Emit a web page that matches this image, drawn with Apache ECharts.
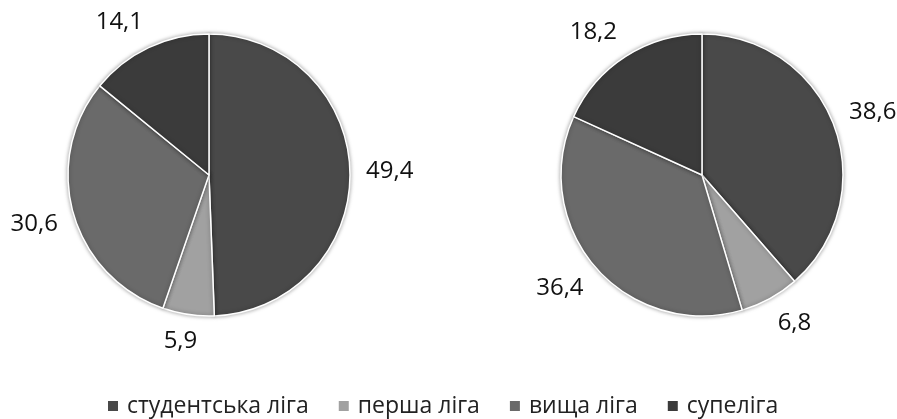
<!DOCTYPE html>
<html>
<head>
<meta charset="utf-8">
<style>html,body{margin:0;padding:0;background:#fff;}#c{width:897px;height:419px;}</style>
<script src="https://cdn.jsdelivr.net/npm/echarts@6/dist/echarts.min.js"></script>
</head>
<body>
<div id="c"></div>
<script>
const categories = ['студентська ліга', 'перша ліга', 'вища ліга', 'супеліга'];
const valuesLeft = [49.4, 5.9, 30.6, 14.1];
const valuesRight = [38.6, 6.8, 36.4, 18.2];
const colors = ['#494949', '#a1a1a1', '#6a6a6a', '#3b3b3b'];

const chart = echarts.init(document.getElementById('c'), null, {renderer: 'canvas'});
const FONT = 'Open Sans';

function toData(vals) {
  return categories.map((n, i) => ({name: n, value: vals[i]}));
}

function labelLayout(params) {
  let p0, u;
  const pts = params.labelLinePoints;
  if (pts && pts.length >= 2) {
    p0 = pts[0];
    const dx = pts[1][0] - pts[0][0], dy = pts[1][1] - pts[0][1];
    const len = Math.hypot(dx, dy) || 1;
    u = [dx / len, dy / len];
  } else {
    const lay = chart.getModel().getSeriesByIndex(params.seriesIndex).getData().getItemLayout(params.dataIndex);
    const a = (lay.startAngle + lay.endAngle) / 2;
    u = [Math.cos(a), Math.sin(a)];
    p0 = [lay.cx + lay.r * u[0], lay.cy + lay.r * u[1]];
  }
  const w = params.labelRect.width, h = 21;
  const gap = 16;
  const sx = Math.sign(u[0]) * Math.min(1, Math.abs(u[0]) * 2.2);
  const sy = Math.sign(u[1]) * Math.min(1, Math.abs(u[1]) * 2.2);
  return {
    x: p0[0] + u[0] * gap + sx * w / 2,
    y: p0[1] + u[1] * gap + sy * h / 2,
    align: 'center', verticalAlign: 'middle'
  };
}

function pieSeries(vals, cx) {
  return {
    type: 'pie',
    center: [cx, 175],
    radius: 141,
    startAngle: 90,
    clockwise: true,
    avoidLabelOverlap: false,
    data: toData(vals),
    itemStyle: {borderColor: '#ffffff', borderWidth: 1.5, shadowBlur: 4, shadowColor: 'rgba(0,0,0,0.35)'},
    label: {
      show: true, position: 'outside',
      formatter: p => String(p.value).replace('.', ','),
      fontFamily: FONT, fontSize: 24, color: '#111111'
    },
    labelLine: {show: true, length: 10, length2: 0, lineStyle: {opacity: 0}},
    labelLayout: labelLayout,
    emphasis: {disabled: true},
    animation: false
  };
}

chart.setOption({
  animation: false,
  color: colors,
  legend: {
    data: categories,
    left: 101, top: 388,
    icon: 'rect', itemWidth: 12, itemHeight: 12, itemGap: 28,
    textStyle: {fontFamily: FONT, fontSize: 23, color: '#222222', lineHeight: 26, padding: [0, 0, 0, 3]}
  },
  series: [pieSeries(valuesLeft, 209), pieSeries(valuesRight, 702)]
});
</script>
</body>
</html>
